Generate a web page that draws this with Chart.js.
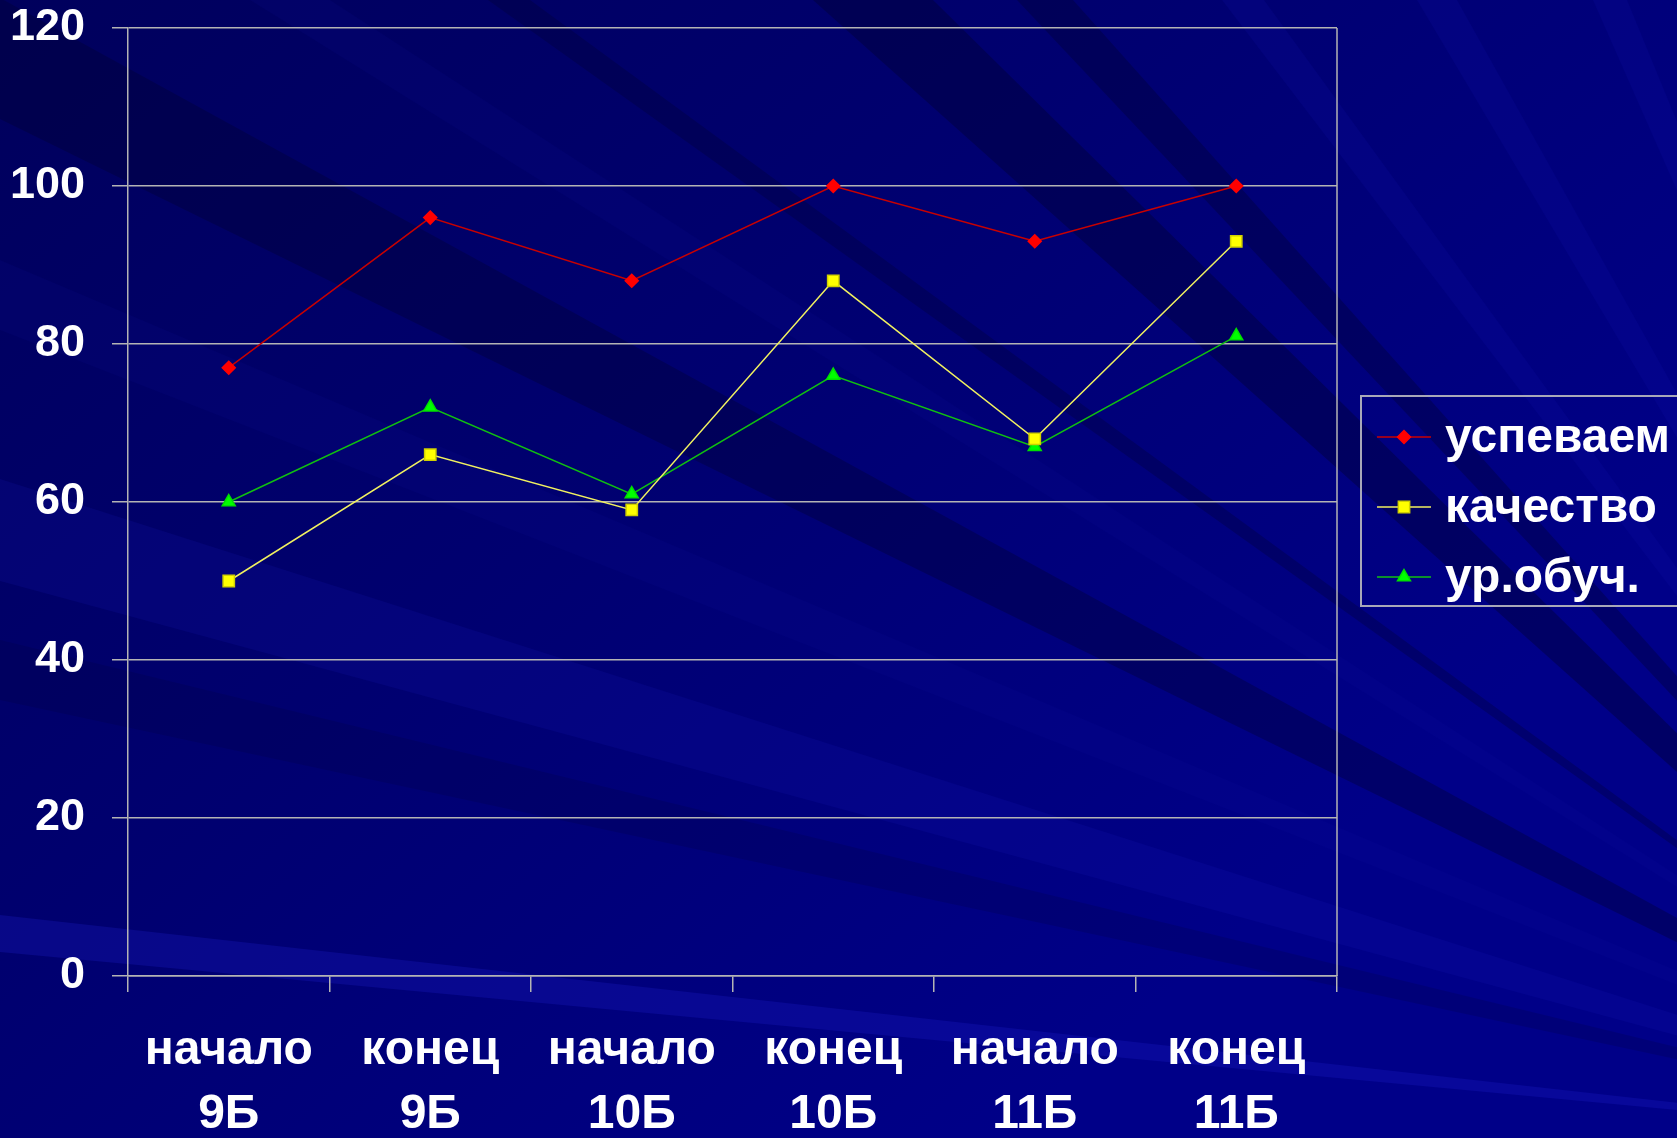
<!DOCTYPE html>
<html>
<head>
<meta charset="utf-8">
<script src="https://cdn.jsdelivr.net/npm/chart.js@4/dist/chart.umd.min.js"></script>
<style>
  html, body { margin: 0; padding: 0; overflow: hidden; background: #000070; }
  #wrap { width: 1677px; height: 1138px; position: relative; }
</style>
</head>
<body>
<div id="wrap"><canvas id="myChart"></canvas></div>
<script>
const categories = [
  ["начало", "9Б"], ["конец", "9Б"],
  ["начало", "10Б"], ["конец", "10Б"],
  ["начало", "11Б"], ["конец", "11Б"]
];
const seriesNames = ["успеваем", "качество", "ур.обуч."];
const uspevaem = [77, 96, 88, 100, 93, 100];
const kachestvo = [50, 66, 59, 88, 68, 93];
const urObuch = [60, 72, 61, 76, 67, 81];
const yMin = 0;
const yMax = 120;
const yStep = 20;

const FONT = "'Liberation Sans', Arial, sans-serif";
const GRID = "#b4b4b4";

// slide background: dark blue with soft light rays
const background = {
  id: "background",
  beforeDraw(chart) {
    const { ctx, width, height } = chart;
    ctx.save();
    const g = ctx.createLinearGradient(0, 0, width * 0.6, height);
    g.addColorStop(0, "#00005c");
    g.addColorStop(0.5, "#000070");
    g.addColorStop(1, "#000088");
    ctx.fillStyle = g;
    ctx.fillRect(0, 0, width, height);
    const P = [2100, 1150];
    const rays = [
      [[0, -2], [0, 119], "rgba(0,0,50,0.35)"],
      [[0, 479], [0, 581], "rgba(30,30,200,0.14)"],
      [[0, 915], [0, 952], "rgba(30,30,200,0.28)"],
      [[0, 640], [0, 700], "rgba(0,0,60,0.2)"],
      [[813, 0], [933, 0], "rgba(0,0,50,0.4)"],
      [[1017, 0], [1073, 0], "rgba(0,0,50,0.35)"],
      [[488, 0], [530, 0], "rgba(0,0,50,0.3)"],
      [[1222, 0], [1264, 0], "rgba(20,20,180,0.15)"],
      [[1417, 0], [1457, 0], "rgba(20,20,180,0.15)"],
      [[1593, 0], [1627, 0], "rgba(20,20,180,0.15)"],
      [[250, 0], [330, 0], "rgba(20,20,170,0.1)"],
      [[0, 260], [0, 330], "rgba(20,20,170,0.1)"]
    ];
    rays.forEach(([a, b, c]) => {
      ctx.beginPath();
      ctx.moveTo(P[0], P[1]);
      ctx.lineTo(a[0], a[1]);
      ctx.lineTo(b[0], b[1]);
      ctx.closePath();
      ctx.fillStyle = c;
      ctx.fill();
    });
    ctx.restore();
  }
};

// right edge of the plot frame
const frame = {
  id: "frame",
  beforeDatasetsDraw(chart) {
    const { ctx, chartArea } = chart;
    ctx.save();
    ctx.strokeStyle = GRID;
    ctx.lineWidth = 1.5;
    ctx.beginPath();
    ctx.moveTo(chartArea.right, chartArea.top);
    ctx.lineTo(chartArea.right, chartArea.bottom);
    ctx.stroke();
    ctx.restore();
  }
};

// boxed legend with line + marker samples
const boxLegend = {
  id: "boxLegend",
  afterDraw(chart) {
    const { ctx } = chart;
    ctx.save();
    ctx.strokeStyle = "#a8a8b8";
    ctx.lineWidth = 2;
    ctx.strokeRect(1361, 396, 340, 210);
    chart.data.datasets.forEach((ds, i) => {
      const base = 452 + i * 70;
      const cy = base - 15;
      ctx.strokeStyle = ds.borderColor;
      ctx.lineWidth = 1.5;
      ctx.beginPath();
      ctx.moveTo(1377, cy);
      ctx.lineTo(1431, cy);
      ctx.stroke();
      ctx.fillStyle = ds.pointBackgroundColor;
      ctx.strokeStyle = ds.pointBorderColor;
      Chart.helpers.drawPoint(ctx, {
        pointStyle: ds.pointStyle, radius: ds.pointRadius, rotation: 0, borderWidth: 1
      }, 1404, cy);
      ctx.fillStyle = "#ffffff";
      ctx.font = "bold 48px " + FONT;
      ctx.textBaseline = "alphabetic";
      ctx.textAlign = "left";
      ctx.fillText(ds.label, 1445, base);
    });
    ctx.restore();
  }
};

const ctx = document.getElementById("myChart").getContext("2d");
const myChart = new Chart(ctx, {
  type: "line",
  data: {
    labels: categories,
    datasets: [
      {
        label: seriesNames[0],
        data: uspevaem,
        borderColor: "#c80000",
        borderWidth: 1.5,
        pointStyle: "rectRot",
        pointRadius: 6.5,
        pointBackgroundColor: "#ff0000",
        pointBorderColor: "#ff0000",
        tension: 0
      },
      {
        label: seriesNames[1],
        data: kachestvo,
        borderColor: "#f0f060",
        borderWidth: 1.5,
        pointStyle: "rect",
        pointRadius: 8,
        pointBackgroundColor: "#ffff00",
        pointBorderColor: "#d0d000",
        tension: 0
      },
      {
        label: seriesNames[2],
        data: urObuch,
        borderColor: "#10c010",
        borderWidth: 1.5,
        pointStyle: "triangle",
        pointRadius: 7.5,
        pointBackgroundColor: "#00ff00",
        pointBorderColor: "#00e000",
        tension: 0
      }
    ]
  },
  options: {
    responsive: true,
    maintainAspectRatio: false,
    animation: false,
    layout: { padding: { top: 0, right: 340, left: 0, bottom: 0 } },
    plugins: {
      legend: { display: false },
      tooltip: { enabled: false }
    },
    scales: {
      x: {
        offset: true,
        grid: {
          offset: true,
          drawOnChartArea: false,
          drawTicks: true,
          tickLength: 16,
          color: GRID,
          lineWidth: 1.5
        },
        border: { display: true, color: GRID, width: 1.5 },
        ticks: {
          color: "#ffffff",
          font: { family: FONT, size: 48, weight: "bold", lineHeight: 1.33 },
          padding: 27,
          maxRotation: 0,
          autoSkip: false
        },
        afterFit(s) { s.height = 162; }
      },
      y: {
        min: yMin,
        max: yMax,
        grid: {
          color: GRID,
          lineWidth: 1.5,
          drawTicks: true,
          tickLength: 16
        },
        border: { display: true, color: GRID, width: 1.5 },
        ticks: {
          stepSize: yStep,
          color: "#ffffff",
          font: { family: FONT, size: 45, weight: "bold", lineHeight: 1.25 },
          padding: 27
        },
        afterFit(s) {
          s.width = 128;
          s.paddingTop = 28;
          s.paddingBottom = 0;
        }
      }
    }
  },
  plugins: [background, frame, boxLegend]
});
</script>
</body>
</html>
